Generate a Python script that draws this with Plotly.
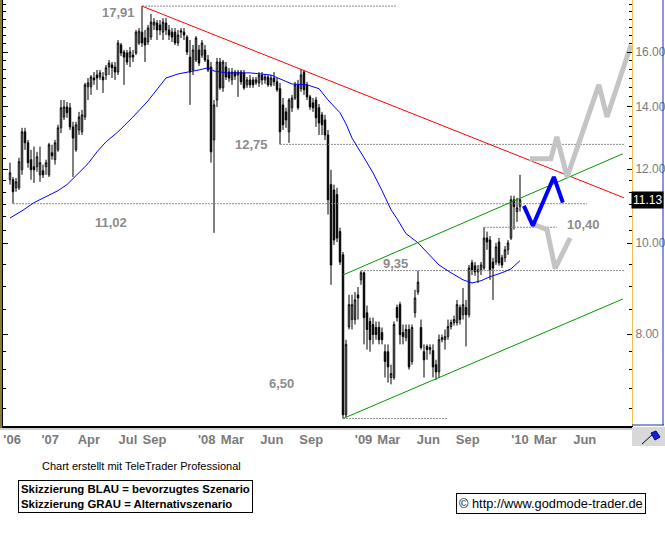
import math
import pandas as pd
import plotly.graph_objects as go

# ---------------- data (weekly candles) ----------------
first_week = "2006-09-29"

open_ = [11.69, 11.69, 11.46, 11.46, 11.98, 13.15, 12.80, 12.28, 12.07, 12.07,
         11.83, 11.95, 12.07, 11.83, 12.49, 12.28, 12.58, 13.28, 13.64, 13.98,
         13.95, 13.31, 12.58, 13.21, 13.15, 13.64, 14.69, 14.69, 15.01, 15.12,
         15.05, 15.05, 15.12, 15.42, 15.50, 15.42, 15.23, 16.28, 16.00, 15.96,
         15.80, 15.88, 15.96, 16.36, 16.80, 16.56, 16.40, 16.60, 17.10, 17.18,
         17.10, 16.80, 17.18, 16.89, 16.80, 16.80, 16.36, 16.80, 16.80, 16.60,
         15.80, 15.31, 15.69, 16.08, 15.88, 16.08, 15.69, 15.42, 12.89, 14.22,
         15.61, 14.65, 15.42, 15.23, 14.94, 15.23, 15.12, 15.23, 15.20, 14.76,
         14.94, 14.94, 14.83, 14.83, 15.12, 14.94, 15.05, 14.76, 15.01, 14.87,
         14.62, 14.05, 13.81, 13.15, 13.95, 14.29, 14.76, 14.62, 15.23, 14.76,
         14.33, 14.12, 14.22, 13.95, 13.71, 13.54, 13.05, 11.55, 11.40, 11.27,
         10.29, 9.72, 6.56, 8.14, 8.29, 8.29, 8.81, 9.14, 9.30, 8.43,
         8.25, 8.19, 8.13, 8.13, 8.03, 7.66, 7.66, 7.19, 7.19, 8.54,
         8.60, 8.03, 7.93, 8.09, 7.48, 8.43, 8.87, 8.13, 7.66, 7.76,
         7.70, 7.68, 7.42, 7.29, 7.89, 7.89, 7.95, 8.15, 8.23, 8.23,
         8.54, 8.39, 8.54, 8.39, 9.53, 9.46, 9.32, 9.37, 9.41, 10.13,
         10.08, 9.55, 9.55, 10.03, 9.65, 9.65, 9.84, 10.13, 11.13, 10.81,
         10.94]

high_ = [12.19, 11.77, 11.74, 12.34, 13.28, 13.28, 12.89, 12.58, 12.68, 12.52,
         12.68, 12.13, 12.28, 12.80, 12.74, 12.89, 13.38, 14.22, 14.22, 14.15,
         14.12, 13.48, 13.48, 13.81, 13.88, 14.83, 15.01, 15.12, 15.23, 15.31,
         15.31, 15.23, 15.50, 15.69, 15.61, 15.61, 16.48, 16.36, 16.08, 16.08,
         16.20, 16.08, 16.89, 16.97, 17.91, 16.89, 17.10, 17.57, 17.39, 17.31,
         17.31, 17.39, 17.39, 17.10, 16.97, 16.97, 16.89, 16.97, 16.97, 16.68,
         16.48, 16.28, 16.64, 16.28, 16.48, 16.28, 15.88, 15.61, 14.22, 15.77,
         15.77, 15.69, 15.61, 15.38, 15.38, 15.31, 15.31, 15.31, 15.31, 15.05,
         15.12, 15.05, 15.05, 15.23, 15.23, 15.16, 15.12, 15.12, 15.23, 15.01,
         14.83, 14.29, 13.95, 14.29, 14.40, 14.87, 14.94, 15.35, 15.31, 14.87,
         14.40, 14.29, 14.33, 14.08, 13.81, 13.71, 13.21, 11.98, 11.55, 11.46,
         10.39, 9.79, 7.89, 8.81, 8.81, 8.87, 8.98, 9.35, 9.33, 8.58,
         8.33, 8.33, 8.25, 8.25, 8.13, 7.80, 7.80, 7.42, 8.25, 8.60,
         8.66, 8.19, 8.19, 8.19, 8.19, 8.92, 9.35, 8.29, 7.80, 7.80,
         7.80, 7.80, 7.51, 7.99, 7.99, 8.09, 8.29, 8.29, 8.37, 8.70,
         8.60, 8.96, 8.70, 9.48, 9.60, 9.55, 9.48, 9.55, 10.40, 10.29,
         10.18, 9.65, 10.01, 10.13, 9.72, 9.93, 10.08, 11.24, 11.24, 11.18,
         11.83]

low_ = [11.55, 11.02, 11.35, 11.40, 11.83, 12.58, 12.04, 11.69, 11.60, 11.92,
        11.63, 11.74, 11.83, 11.77, 12.28, 12.13, 12.52, 13.11, 13.54, 13.61,
        13.21, 11.77, 12.52, 13.05, 13.05, 13.54, 14.22, 14.40, 14.76, 14.58,
        14.94, 14.47, 14.94, 15.12, 15.01, 14.94, 15.12, 15.84, 14.76, 15.50,
        15.42, 15.61, 15.88, 16.28, 16.20, 15.61, 16.28, 16.48, 16.89, 16.48,
        16.68, 16.48, 16.68, 16.48, 16.40, 16.28, 16.24, 16.56, 16.48, 15.88,
        14.05, 15.12, 15.61, 15.46, 15.77, 15.61, 15.23, 12.19, 10.26, 13.98,
        14.58, 14.51, 14.94, 14.87, 14.76, 14.94, 14.33, 14.76, 14.58, 14.65,
        14.65, 14.65, 14.76, 14.69, 14.76, 14.80, 14.69, 14.69, 14.72, 14.51,
        12.75, 13.21, 13.28, 12.80, 13.81, 14.22, 13.88, 14.51, 14.40, 14.22,
        13.88, 13.81, 13.31, 13.05, 13.05, 12.89, 10.73, 9.03, 9.96, 10.03,
        9.48, 6.50, 6.52, 8.09, 8.09, 8.19, 8.29, 9.03, 7.80, 7.70,
        7.66, 7.80, 7.89, 7.80, 7.80, 7.19, 7.10, 7.07, 7.15, 8.25,
        7.80, 7.80, 7.86, 7.33, 7.42, 8.33, 8.81, 7.70, 7.19, 7.51,
        7.61, 7.19, 7.15, 7.18, 7.84, 7.70, 7.89, 8.09, 8.17, 8.17,
        8.19, 8.29, 7.76, 8.33, 9.25, 9.23, 9.07, 9.25, 9.37, 9.84,
        9.14, 8.70, 9.48, 9.46, 9.41, 9.55, 9.72, 10.08, 10.34, 10.54,
        10.81]

close_ = [11.89, 11.35, 11.63, 12.22, 13.15, 12.80, 12.19, 11.98, 11.98, 12.37,
          12.19, 11.83, 12.19, 12.74, 12.40, 12.80, 13.28, 13.95, 13.98, 13.78,
          13.31, 12.95, 13.38, 13.64, 13.71, 14.76, 14.83, 15.05, 14.94, 15.01,
          15.20, 14.94, 15.39, 15.57, 15.39, 15.23, 16.36, 15.96, 15.80, 15.61,
          16.00, 15.80, 16.80, 16.84, 16.36, 16.28, 16.97, 17.22, 17.22, 16.89,
          16.89, 17.22, 16.89, 16.68, 16.60, 16.36, 16.68, 16.85, 16.68, 16.00,
          15.23, 16.08, 16.56, 15.57, 16.36, 15.69, 15.31, 12.52, 14.05, 15.61,
          14.65, 15.61, 15.05, 15.01, 15.23, 15.08, 15.23, 14.87, 14.65, 14.94,
          14.76, 14.76, 14.94, 15.12, 14.94, 15.05, 14.76, 15.01, 14.87, 14.58,
          13.15, 13.38, 13.54, 14.22, 14.29, 14.76, 13.95, 15.12, 14.58, 14.33,
          13.98, 13.95, 13.61, 13.44, 13.38, 13.05, 11.13, 9.48, 10.08, 10.13,
          9.55, 6.56, 7.80, 8.60, 8.60, 8.70, 8.74, 9.30, 8.33, 8.09,
          7.89, 7.99, 7.99, 7.89, 7.89, 7.48, 7.38, 7.26, 8.19, 8.33,
          7.99, 7.95, 8.09, 7.38, 8.13, 8.74, 9.09, 7.74, 7.51, 7.70,
          7.74, 7.38, 7.29, 7.89, 7.93, 7.95, 8.15, 8.23, 8.29, 8.60,
          8.29, 8.60, 8.39, 9.41, 9.37, 9.32, 9.37, 9.48, 10.13, 10.03,
          9.37, 9.41, 9.91, 9.53, 9.48, 9.84, 10.01, 11.13, 10.94, 10.91,
          11.13]

# moving average (blue), sampled at these candle weeks
ma_week = [0, 4, 8, 12, 16, 19, 23, 26, 29, 32, 36, 41, 46, 49, 52, 56, 60, 63, 66, 68,
           72, 80, 87, 90, 94, 99, 103, 106, 110, 112, 114, 118, 121, 124, 127, 129, 132,
           136, 140, 143, 147, 151, 154, 157, 160, 164, 167, 170]
ma_value = [10.64, 10.83, 11.05, 11.21, 11.38, 11.55, 11.89, 12.16, 12.52, 12.83,
            13.15, 13.64, 14.19, 14.58, 15.01, 15.16, 15.23, 15.31, 15.39, 15.27,
            15.20, 15.20, 15.12, 14.98, 14.79, 14.76, 14.62, 14.22, 13.78, 13.41,
            12.95, 12.34, 11.89, 11.38, 10.86, 10.62, 10.24, 10.01, 9.70, 9.48,
            9.30, 9.14, 9.07, 9.12, 9.21, 9.30, 9.39, 9.58]

# horizontal levels
level_value = [17.91, 12.75, 11.02, 10.40, 9.35, 6.50]
level_label = ["17,91", "12,75", "11,02", "10,40", "9,35", "6,50"]
level_start = ["2007-08-03", "2008-06-20", "2006-10-06", "2009-10-09", "2008-12-26", "2008-11-14"]
level_end = ["2009-03-18", "2010-09-01", "2010-06-06", "2010-03-28", "2010-09-01", "2009-07-15"]

# trend lines
red_dates = ["2007-08-03", "2010-09-01"]
red_values = [17.91, 11.18]
green_dates = ["2008-11-14", "2010-08-29"]
green_upper = [9.25, 12.46]
green_lower = [6.50, 8.72]

# scenario sketches
blue_dates = ["2010-01-10", "2010-01-31", "2010-03-21", "2010-04-11"]
blue_values = [10.96, 10.44, 11.77, 11.05]
grey_up_dates = ["2010-01-24", "2010-03-14", "2010-03-28", "2010-04-21", "2010-07-04", "2010-07-23", "2010-09-17"]
grey_up_values = [12.31, 12.31, 12.99, 11.77, 14.76, 13.64, 16.28]
grey_dn_dates = ["2010-01-29", "2010-03-05", "2010-03-24", "2010-04-28"]
grey_dn_values = [10.49, 10.34, 9.40, 10.13]

last_price = 11.13

# axis ticks
x_tick_dates = ["2006-10-04", "2007-01-01", "2007-04-01", "2007-07-01", "2007-09-01",
                "2008-01-01", "2008-03-01", "2008-06-01", "2008-09-01", "2009-01-01",
                "2009-03-01", "2009-06-01", "2009-09-01", "2010-01-01", "2010-03-01", "2010-06-01"]
x_tick_text = ["'06", "'07", "Apr", "Jul", "Sep", "'08", "Mar", "Jun", "Sep", "'09",
               "Mar", "Jun", "Sep", "'10", "Mar", "Jun"]
y_tick_vals = [8, 10, 12, 14, 16]
y_tick_text = ["8.00", "10.00", "12.00", "14.00", "16.00"]
y_minor_vals = [6.67, 7.0, 7.33, 7.67, 8.5, 9.0, 9.5, 10.33, 10.67, 11.0, 11.33, 11.67,
                12.33, 12.67, 13.0, 13.33, 13.67, 14.33, 14.67, 15.0, 15.33, 15.67,
                16.33, 16.67, 17.0, 17.33, 17.67, 18.0]

# ---------------- figure ----------------
W, H = 665, 535
def px(x):
    return x / W
def py(y):
    return 1 - y / H

FONT = "Liberation Sans"
dates = pd.date_range(first_week, periods=len(close_), freq="7D")
ma_dates = [dates[i] for i in ma_week]

fig = go.Figure()

for v, s, e in zip(level_value, level_start, level_end):
    fig.add_trace(go.Scatter(x=[s, e], y=[v, v], mode="lines",
                             line=dict(color="#8c8c8c", width=1, dash="2px,1px"),
                             hoverinfo="skip", showlegend=False))

fig.add_trace(go.Scatter(x=ma_dates, y=ma_value, mode="lines",
                         line=dict(color="#0000ff", width=1), hoverinfo="skip", showlegend=False))

fig.add_trace(go.Candlestick(x=dates, open=open_, high=high_, low=low_, close=close_,
                             increasing=dict(line=dict(color="black", width=1), fillcolor="white"),
                             decreasing=dict(line=dict(color="black", width=1), fillcolor="black"),
                             whiskerwidth=0, hoverinfo="skip", showlegend=False))

fig.add_trace(go.Scatter(x=red_dates, y=red_values, mode="lines",
                         line=dict(color="#ff0000", width=1), hoverinfo="skip", showlegend=False))
for g in (green_upper, green_lower):
    fig.add_trace(go.Scatter(x=green_dates, y=g, mode="lines",
                             line=dict(color="#009900", width=1), hoverinfo="skip", showlegend=False))

for d, v in ((grey_up_dates, grey_up_values), (grey_dn_dates, grey_dn_values)):
    fig.add_trace(go.Scatter(x=d, y=v, mode="lines",
                             line=dict(color="#c4c4c4", width=5), hoverinfo="skip", showlegend=False))
fig.add_trace(go.Scatter(x=blue_dates, y=blue_values, mode="lines",
                         line=dict(color="#0000ff", width=4), hoverinfo="skip", showlegend=False))

# invisible trace for left mirror axis
fig.add_trace(go.Scatter(x=[dates[0]], y=[10], yaxis="y2", mode="markers",
                         marker=dict(opacity=0), hoverinfo="skip", showlegend=False))

ylo = math.log10(6.382)
yhi = math.log10(18.181)

fig.update_layout(
    width=W, height=H, margin=dict(l=0, r=0, t=0, b=0, pad=0),
    paper_bgcolor="white", plot_bgcolor="white", hovermode=False, showlegend=False,
    font=dict(family=FONT),
    xaxis=dict(type="date", domain=[px(3), px(632)],
               range=["2006-09-12 16:00", "2010-09-19 08:00"],
               rangeslider=dict(visible=False), showgrid=False, zeroline=False,
               showline=True, linecolor="black", linewidth=2,
               tickmode="array", tickvals=x_tick_dates, ticktext=x_tick_text, ticks="",
               tickfont=dict(family=FONT, size=13, color="#7a7a7a", weight="bold"),
               automargin=False, fixedrange=True),
    yaxis=dict(type="log", domain=[py(426), 1], range=[ylo, yhi], side="right",
               showgrid=False, zeroline=False, showline=True, linecolor="#f0c050", linewidth=1,
               tickmode="array", tickvals=y_tick_vals, ticktext=y_tick_text,
               ticks="inside", ticklen=5, tickcolor="black", tickwidth=1,
               minor=dict(tickvals=y_minor_vals, ticks="inside", ticklen=3, tickcolor="black", tickwidth=1),
               tickfont=dict(family=FONT, size=12, color="#7a7a7a"),
               automargin=False, fixedrange=True),
    yaxis2=dict(type="log", overlaying="y", side="left", anchor="x", range=[ylo, yhi],
                showgrid=False, zeroline=False, showline=True, linecolor="black", linewidth=2,
                tickmode="array", tickvals=y_tick_vals, ticks="inside", ticklen=5,
                tickcolor="black", showticklabels=False,
                minor=dict(tickvals=y_minor_vals, ticks="inside", ticklen=3, tickcolor="black"),
                automargin=False, fixedrange=True),
)

shapes = [
    # second (grey) bottom line
    dict(type="line", xref="paper", yref="paper", x0=px(0), x1=px(632), y0=py(429), y1=py(429),
         line=dict(color="#9a9a9a", width=1)),
    # left checkered strip
    dict(type="rect", xref="paper", yref="paper", x0=0, x1=px(2), y0=py(428), y1=1,
         fillcolor="#8a7a3a", line=dict(width=0)),
    # right panel frame
    dict(type="line", xref="paper", yref="paper", x0=px(663), x1=px(663), y0=py(425), y1=1,
         line=dict(color="#1030b0", width=1)),
    dict(type="line", xref="paper", yref="paper", x0=px(632), x1=px(664), y0=py(425), y1=py(425),
         line=dict(color="#1030b0", width=1)),
    # corner icon
    dict(type="rect", xref="paper", yref="paper", x0=px(632), x1=px(665), y0=py(446), y1=py(427),
         fillcolor="#d8d8d8", line=dict(width=0)),
    dict(type="line", xref="paper", yref="paper", x0=px(642), x1=px(653), y0=py(444), y1=py(434),
         line=dict(color="black", width=1)),
    dict(type="path", xref="paper", yref="paper",
         path=f"M {px(651)},{py(433)} L {px(656)},{py(431)} L {px(660)},{py(437)} L {px(655)},{py(440)} Z",
         fillcolor="#1020e0", line=dict(color="#000080", width=1)),
]
fig.update_layout(shapes=shapes)

ann = []
label_px = {"17,91": (118, 13), "12,75": (251, 145), "11,02": (111, 222),
            "10,40": (583, 224), "9,35": (395, 264), "6,50": (281, 383)}
for t in level_label:
    x, y = label_px[t]
    ann.append(dict(x=px(x), y=py(y), xref="paper", yref="paper", text=t, showarrow=False,
                    xanchor="center", yanchor="middle",
                    font=dict(family=FONT, size=13, color="#8c8c8c", weight="bold")))

ann.append(dict(x=px(647), y=math.log10(last_price), xref="paper", yref="y",
                text=f"{last_price:.2f}", showarrow=False, xanchor="center", yanchor="middle",
                bgcolor="black", borderpad=1,
                font=dict(family=FONT, size=12, color="white")))

ann.append(dict(x=px(40), y=py(466), xref="paper", yref="paper", showarrow=False,
                text="Chart erstellt mit TeleTrader Professional", xanchor="left", yanchor="middle",
                font=dict(family=FONT, size=11, color="black")))
ann.append(dict(x=px(18), y=py(480), xref="paper", yref="paper", showarrow=False,
                text="<b>Skizzierung BLAU = bevorzugtes Szenario<br>Skizzierung GRAU = Alternativszenario</b>",
                xanchor="left", yanchor="top", align="left", bordercolor="black", borderwidth=1,
                borderpad=2, bgcolor="white", font=dict(family=FONT, size=11.4, color="black")))
ann.append(dict(x=px(456), y=py(493), xref="paper", yref="paper", showarrow=False,
                text="© http://www.godmode-trader.de", xanchor="left", yanchor="top",
                bordercolor="black", borderwidth=1, borderpad=2, bgcolor="white",
                font=dict(family=FONT, size=12.8, color="black")))
fig.update_layout(annotations=ann)

fig.write_html("out.html", config={"displayModeBar": False},
               post_script="document.body.style.margin='0px';document.body.style.overflow='hidden';")
